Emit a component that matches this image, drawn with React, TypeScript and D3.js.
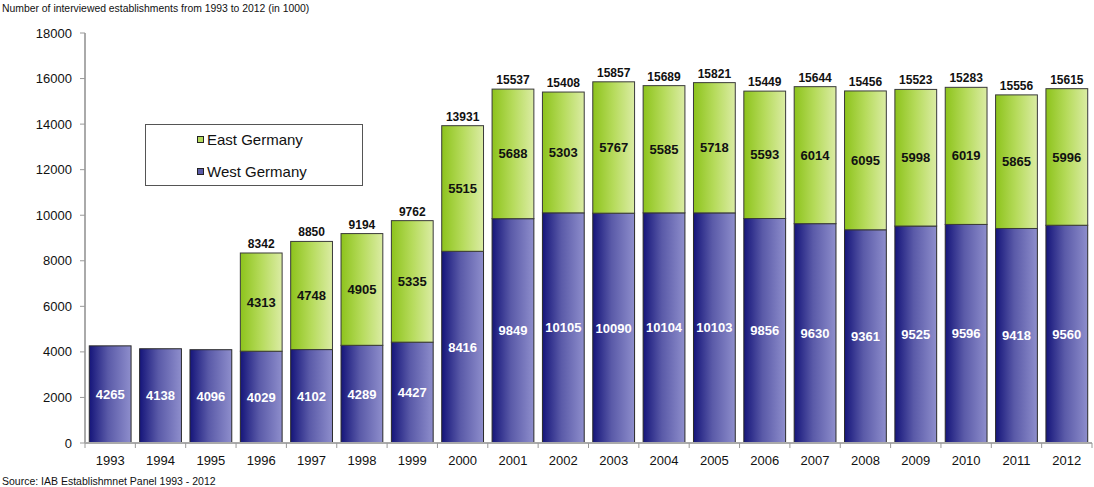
import React from "react";
import * as d3 from "d3";

const years = ["1993","1994","1995","1996","1997","1998","1999","2000","2001","2002","2003","2004","2005","2006","2007","2008","2009","2010","2011","2012"];
const west = [4265,4138,4096,4029,4102,4289,4427,8416,9849,10105,10090,10104,10103,9856,9630,9361,9525,9596,9418,9560];
const east = [0,0,0,4313,4748,4905,5335,5515,5688,5303,5767,5585,5718,5593,6014,6095,5998,6019,5865,5996];
const totals = [null,null,null,8342,8850,9194,9762,13931,15537,15408,15857,15689,15821,15449,15644,15456,15523,15283,15556,15615];
const yTicks = [0,2000,4000,6000,8000,10000,12000,14000,16000,18000];
const title = "Number of interviewed establishments from 1993 to 2012 (in 1000)";
const source = "Source: IAB Establishmnet Panel 1993 - 2012";

const W = 1094, H = 487;
const left = 85, right = 1092, top = 33, bottom = 443;

export default function App() {
  const x = d3.scaleBand<string>().domain(years).range([left, right]).paddingInner(0.17).paddingOuter(0.085);
  const y = d3.scaleLinear().domain([0, 18000]).range([bottom, top]);
  const step = (right - left) / years.length;
  const font = "'Liberation Sans', Arial, Helvetica, sans-serif";
  const bw = x.bandwidth();
  return (
    <div style={{ position: "absolute", left: 0, top: 0 }}>
      <svg width={W} height={H} style={{ display: "block", fontFamily: font }}>
        <defs>
          <linearGradient id="gw" x1="0" x2="1" y1="0" y2="0">
            <stop offset="0" stopColor="#15157a" />
            <stop offset="0.45" stopColor="#5a5aa8" />
            <stop offset="1" stopColor="#8e8ecc" />
          </linearGradient>
          <linearGradient id="ge" x1="0" x2="1" y1="0" y2="0">
            <stop offset="0" stopColor="#8dc31c" />
            <stop offset="0.5" stopColor="#b6db5c" />
            <stop offset="1" stopColor="#dbeca4" />
          </linearGradient>
        </defs>
        <rect width={W} height={H} fill="#fff" />
        <text x={2} y={12} fontSize={10.4} fill="#111">{title}</text>
        {/* y axis */}
        <line x1={left} x2={left} y1={top} y2={bottom} stroke="#aaa" strokeWidth={2} />
        {yTicks.map(t => (
          <g key={t}>
            <line x1={left - 5} x2={left} y1={y(t)} y2={y(t)} stroke="#999" strokeWidth={1} />
            <text x={left - 13} y={y(t)} dy="0.35em" textAnchor="end" fontSize={13} fill="#111">{t}</text>
          </g>
        ))}
        {/* bars */}
        {years.map((yr, i) => {
          const x0 = x(yr)!;
          const wTop = y(west[i]);
          const eTop = y(west[i] + east[i]);
          return (
            <g key={yr}>
              <rect x={x0} y={wTop} width={bw} height={bottom - wTop} fill="url(#gw)" stroke="#2a2a2a" strokeWidth={1} />
              {east[i] > 0 && (
                <rect x={x0} y={eTop} width={bw} height={wTop - eTop} fill="url(#ge)" stroke="#3a3a3a" strokeWidth={1} />
              )}
              <text x={x0 + bw / 2} y={y(west[i] / 2)} dy="0.35em" textAnchor="middle" fontSize={13} fontWeight="bold" fill="#fff">{west[i]}</text>
              {east[i] > 0 && (
                <text x={x0 + bw / 2} y={y(west[i] + east[i] / 2)} dy="0.35em" textAnchor="middle" fontSize={13} fontWeight="bold" fill="#111">{east[i]}</text>
              )}
              {totals[i] !== null && (
                <text x={x0 + bw / 2} y={eTop - 5} textAnchor="middle" fontSize={12} fontWeight="bold" fill="#111">{totals[i]}</text>
              )}
            </g>
          );
        })}
        {/* x axis */}
        <line x1={left} x2={right} y1={bottom} y2={bottom} stroke="#aaa" strokeWidth={2} />
        {d3.range(years.length + 1).map(k => (
          <line key={k} x1={left + k * step} x2={left + k * step} y1={bottom} y2={bottom + 5} stroke="#999" strokeWidth={1} />
        ))}
        {years.map(yr => (
          <text key={yr} x={x(yr)! + bw / 2} y={465} textAnchor="middle" fontSize={13} fill="#111">{yr}</text>
        ))}
        <text x={2} y={485} fontSize={10.5} fill="#111">{source}</text>
        {/* legend */}
        <rect x={145.5} y={124.5} width={217} height={61} fill="#fff" stroke="#555" strokeWidth={1} />
        <rect x={197.5} y={136.5} width={6} height={6} fill="#b6db5c" stroke="#222" strokeWidth={1} />
        <text x={207} y={140} dy="0.35em" fontSize={15} fill="#111">East Germany</text>
        <rect x={197.5} y={168.5} width={6} height={6} fill="#5a5aa8" stroke="#222" strokeWidth={1} />
        <text x={207} y={172} dy="0.35em" fontSize={15} fill="#111">West Germany</text>
      </svg>
    </div>
  );
}
